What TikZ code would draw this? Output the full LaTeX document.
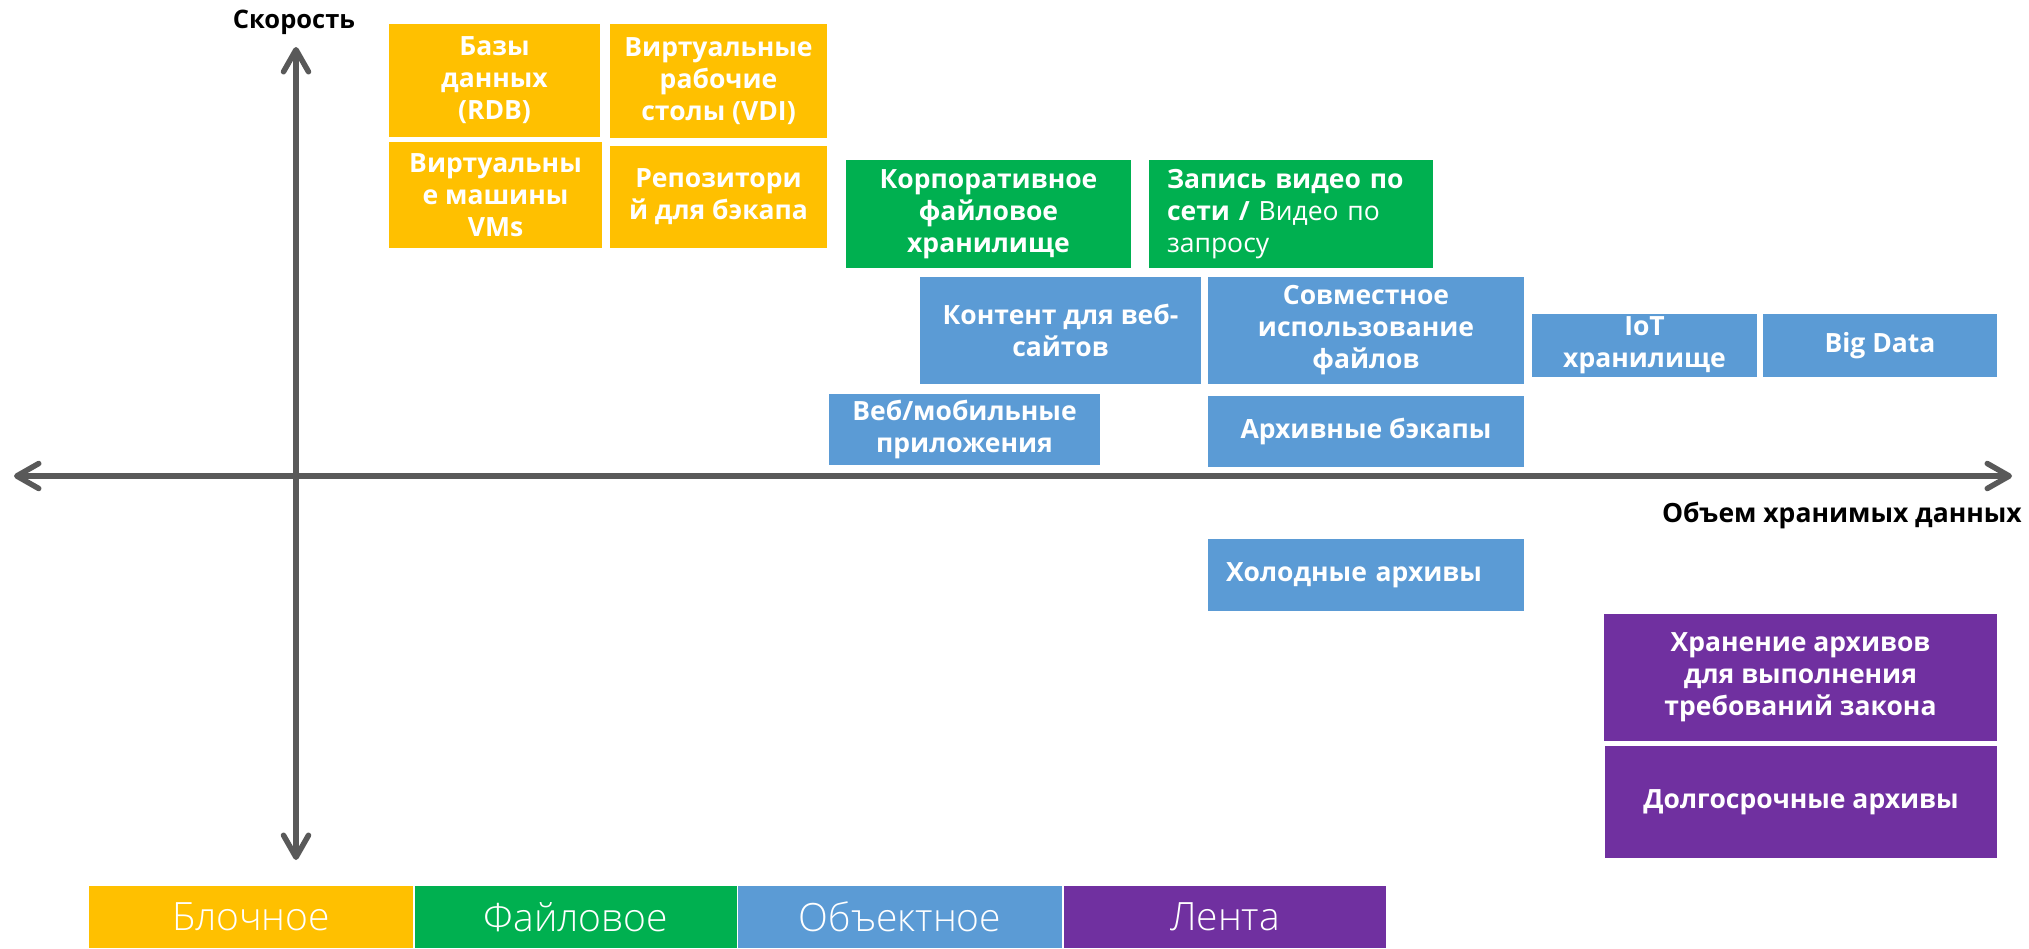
\documentclass[tikz,border=0pt]{standalone}
\usepackage{fontspec}
\setmainfont{Open Sans}
\newfontfamily\lightfont{Open Sans}[UprightFont={* Light}]
\usetikzlibrary{arrows.meta}

\definecolor{cblock}{HTML}{FFC000}
\definecolor{cfile}{HTML}{00B050}
\definecolor{cobject}{HTML}{5B9BD5}
\definecolor{ctape}{HTML}{7030A0}
\definecolor{caxis}{HTML}{595959}

\newcommand{\boxfont}{\fontsize{26.5}{32}\selectfont}

\tikzset{
  usecase/.style={rectangle, inner sep=0pt, text=white, align=center,
    font=\boxfont\bfseries},
  leftcase/.style={usecase, align=left, inner xsep=18pt},
  legendbox/.style={rectangle, inner sep=0pt, text=white,
    minimum height=62pt, font=\fontsize{39}{42}\selectfont\lightfont},
  axislabel/.style={inner sep=0pt, text=black, font=\fontsize{25.5}{30}\selectfont\bfseries},
  axisline/.style={draw=caxis, line width=5.5pt,
    {Straight Barb[length=22pt,width=25pt,round]}-{Straight Barb[length=22pt,width=25pt,round]}}
}

\begin{document}
\begin{tikzpicture}[x=1pt, y=-1pt]
\useasboundingbox (0,0) rectangle (2029,948);

% axes
\coordinate (ytop) at (296,47);
\coordinate (ybot) at (296,860);
\coordinate (xleft) at (14,476);
\coordinate (xright) at (2012,476);
\draw[axisline] (xleft) -- (xright);
\draw[axisline] (ybot) -- (ytop);

\node[axislabel] (speed) at (294,22) {Скорость};
\node[axislabel, anchor=east, font=\fontsize{26.5}{30}\selectfont\bfseries] (volume) at (2022,515)
  {Объем хранимых данных};

% block storage
\node[usecase, fill=cblock, minimum width=211pt, minimum height=113pt] (rdb) at (494.5,80.5)
  {Базы\\данных\\(RDB)};
\node[usecase, fill=cblock, minimum width=217pt, minimum height=114pt] (vdi) at (718.5,81)
  {Виртуальные\\рабочие\\столы (VDI)};
\node[usecase, fill=cblock, minimum width=213pt, minimum height=106pt] (vm) at (495.5,195)
  {Виртуальны\\е машины\\VMs};
\node[usecase, fill=cblock, minimum width=217pt, minimum height=102pt] (repo) at (718.5,197)
  {Репозитори\\й для бэкапа};

% file storage
\node[usecase, fill=cfile, minimum width=285pt, minimum height=108pt] (corp) at (988.5,214)
  {Корпоративное\\файловое\\хранилище};
\node[leftcase, fill=cfile, text width=248pt, minimum height=108pt] (video) at (1291,214)
  {Запись видео по\\сети / {\mdseries Видео по}\\{\mdseries запросу}};

% object storage
\node[usecase, fill=cobject, minimum width=281pt, minimum height=107pt] (web) at (1060.5,330.5)
  {Контент для веб-\\сайтов};
\node[usecase, fill=cobject, minimum width=316pt, minimum height=107pt] (share) at (1366,330.5)
  {Совместное\\использование\\файлов};
\node[usecase, fill=cobject, minimum width=225pt, minimum height=63pt] (iot) at (1644.5,345.5)
  {IoT\\хранилище};
\node[usecase, fill=cobject, minimum width=234pt, minimum height=63pt] (bigdata) at (1880,345.5)
  {Big Data};
\node[usecase, fill=cobject, minimum width=271pt, minimum height=71pt] (mobile) at (964.5,429.5)
  {Веб/мобильные\\приложения};
\node[usecase, fill=cobject, minimum width=316pt, minimum height=71pt] (backup) at (1366,431.5)
  {Архивные бэкапы};
\node[leftcase, fill=cobject, text width=280pt, minimum height=72pt] (cold) at (1366,575)
  {Холодные архивы};

% tape
\node[usecase, fill=ctape, minimum width=393pt, minimum height=127pt] (legal) at (1800.5,677.5)
  {Хранение архивов\\для выполнения\\требований закона};
\node[usecase, fill=ctape, minimum width=392pt, minimum height=112pt] (longterm) at (1801,802)
  {Долгосрочные архивы};

% legend
\node[legendbox, fill=cblock, minimum width=324pt] (lgblock) at (251,917) {Блочное};
\node[legendbox, fill=cfile, minimum width=322pt] (lgfile) at (576,917) {Файловое};
\node[legendbox, fill=cobject, minimum width=324pt] (lgobject) at (900,917) {Объектное};
\node[legendbox, fill=ctape, minimum width=322pt] (lgtape) at (1225,917) {Лента};
\end{tikzpicture}
\end{document}
